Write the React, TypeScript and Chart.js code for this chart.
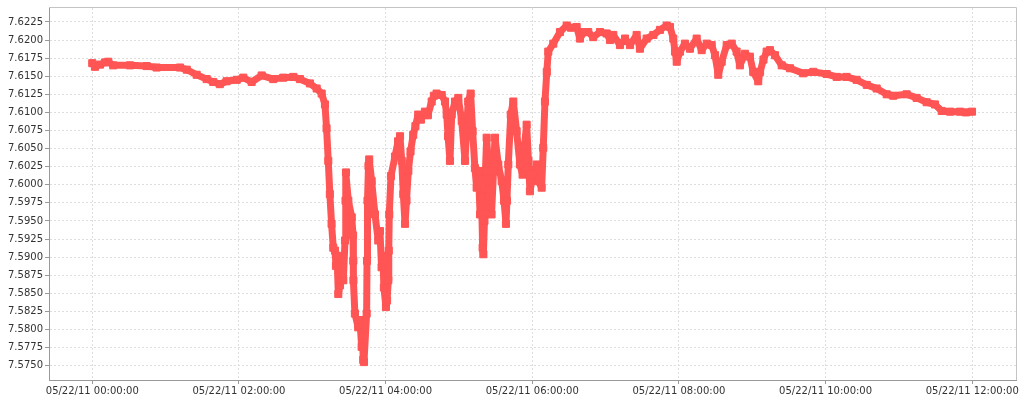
import React, { useEffect, useRef } from "react";
import { Chart, registerables } from "chart.js";

Chart.register(...registerables);

// minutes after 05/22/11 00:00:00
const MINUTES = [
  0, 2.2, 6.3, 10.4, 13.1, 17.1, 30.9, 44.5, 52.7, 71.8, 77.3, 85.4, 93.6, 99.0, 104.4, 109.9,
  118.2, 123.6, 130.4, 138.6, 148.1, 156.3, 164.5, 170.0, 178.1, 183.6, 187.7, 190.4, 191.7, 193.1,
  194.4, 195.8, 197.2, 198.6, 199.4, 200.3, 201.3, 202.7, 204.1, 205.4, 206.8, 207.2, 207.6, 209.5,
  212.3, 213.4, 213.6, 213.7, 214.9, 217.6, 219.0, 220.4, 221.1, 221.7, 222.3, 224.5, 224.8, 225.2,
  226.0, 226.6, 228.6, 231.3, 234.0, 235.4, 236.7, 237.8, 238.6, 240.3, 241.2, 242.2, 242.6, 243.0,
  244.4, 247.7, 250.2, 251.8, 253.2, 254.5, 255.9, 257.1, 258.6, 260.4, 262.6, 264.4, 266.7, 268.9,
  272.2, 274.6, 277.7, 279.5, 281.7, 285.9, 288.6, 290.0, 291.1, 292.7, 294.1, 296.8, 299.5, 302.3,
  305.0, 306.2, 307.6, 309.6, 311.2, 313.1, 314.5, 316.0, 317.3, 318.5, 319.4, 320.0, 320.9, 321.7,
  322.7, 324.8, 326.7, 328.3, 329.5, 332.2, 335.0, 336.9, 338.5, 339.3, 340.4, 342.4, 344.5, 347.2,
  349.9, 352.1, 353.6, 355.4, 356.9, 358.1, 360.8, 363.6, 364.9, 367.7, 369.0, 370.4, 371.9, 373.1,
  377.2, 382.7, 388.2, 391.7, 396.3, 399.0, 402.3, 405.8, 409.9, 415.4, 420.9, 423.6, 426.3, 431.8,
  435.9, 440.0, 445.4, 448.1, 453.6, 459.1, 464.5, 470.0, 472.7, 475.4, 476.8, 478.2, 480.9, 484.9,
  489.0, 494.5, 498.6, 502.8, 506.8, 509.5, 512.2, 515.0, 519.1, 523.2, 527.2, 529.9, 534.0, 538.1,
  540.8, 544.9, 546.4, 549.2, 551.8, 554.5, 558.6, 564.1, 570.9, 581.7, 590.0, 600.9, 609.1, 617.2,
  625.4, 633.7, 641.8, 650.0, 655.4, 666.3, 674.5, 682.7, 689.5, 695.0, 701.8, 710.0, 714.8, 719.8,
];

const VALUES = [
  7.6168, 7.6163, 7.6166, 7.6169, 7.6170, 7.6165, 7.6165, 7.6164, 7.6162, 7.6162, 7.6159, 7.6152, 7.6146, 7.6142, 7.6139, 7.6143,
  7.6145, 7.6148, 7.6142, 7.6151, 7.6146, 7.6148, 7.6149, 7.6146, 7.6140, 7.6133, 7.6126, 7.6111, 7.6078, 7.6033,
  7.5987, 7.5946, 7.5913, 7.5909, 7.5888, 7.5902, 7.5849, 7.5861, 7.5895, 7.5868, 7.5923, 7.5978, 7.6017, 7.5978,
  7.5955, 7.5930, 7.5895, 7.5868, 7.5822, 7.5803, 7.5813, 7.5776, 7.5792, 7.5758, 7.5755, 7.5822, 7.5895, 7.5978,
  7.6026, 7.6035, 7.6005, 7.5959, 7.5923, 7.5936, 7.5886, 7.5902, 7.5858, 7.5831, 7.5840, 7.5868, 7.5909, 7.5959,
  7.6012, 7.6039, 7.6060, 7.6067, 7.6033, 7.5987, 7.5946, 7.5978, 7.6019, 7.6046, 7.6069, 7.6081, 7.6097, 7.6090,
  7.6101, 7.6096, 7.6115, 7.6123, 7.6126, 7.6124, 7.6115, 7.6097, 7.6067, 7.6033, 7.6097, 7.6115, 7.6120, 7.6088,
  7.6033, 7.6074, 7.6115, 7.6126, 7.6074, 7.6023, 7.5996, 7.6019, 7.5959, 7.5984, 7.5913, 7.5904, 7.5950, 7.6019,
  7.6065, 7.6005, 7.5959, 7.6019, 7.6065, 7.6028, 7.6005, 7.5978, 7.5946, 7.5978, 7.6028, 7.6097, 7.6115, 7.6074,
  7.6028, 7.6014, 7.6053, 7.6083, 7.6033, 7.5991, 7.6014, 7.6028, 7.6005, 7.5996, 7.6051, 7.6115, 7.6156, 7.6184,
  7.6195, 7.6211, 7.6220, 7.6217, 7.6218, 7.6202, 7.6211, 7.6211, 7.6204, 7.6211, 7.6209, 7.6200, 7.6207, 7.6193,
  7.6202, 7.6193, 7.6207, 7.6188, 7.6202, 7.6207, 7.6214, 7.6220, 7.6218, 7.6202, 7.6184, 7.6170, 7.6184, 7.6195,
  7.6188, 7.6202, 7.6186, 7.6195, 7.6193, 7.6179, 7.6152, 7.6170, 7.6193, 7.6195, 7.6184, 7.6165, 7.6181, 7.6177,
  7.6156, 7.6143, 7.6156, 7.6173, 7.6184, 7.6186, 7.6179, 7.6165, 7.6161, 7.6154, 7.6156, 7.6153, 7.6149, 7.6149,
  7.6145, 7.6138, 7.6133, 7.6125, 7.6123, 7.6125, 7.6120, 7.6114, 7.6111, 7.6102, 7.6101, 7.6101, 7.6100, 7.6101,
];

const X_TICKS = [0, 120, 240, 360, 480, 600, 720];
const DATE_PREFIX = "05/22/11";
const Y_TICKS = [
  7.575, 7.5775, 7.58, 7.5825, 7.585, 7.5875, 7.59, 7.5925, 7.595, 7.5975,
  7.6, 7.6025, 7.605, 7.6075, 7.61, 7.6125, 7.615, 7.6175, 7.62, 7.6225,
];

const frame = {
  id: "frame",
  afterDraw(chart: any) {
    const { ctx, chartArea } = chart;
    ctx.save();
    ctx.strokeStyle = "#c4c4c4";
    ctx.lineWidth = 1;
    ctx.beginPath();
    ctx.moveTo(Math.round(chartArea.left), Math.round(chartArea.top) - 0.5);
    ctx.lineTo(Math.round(chartArea.right) + 0.5, Math.round(chartArea.top) - 0.5);
    ctx.lineTo(Math.round(chartArea.right) + 0.5, Math.round(chartArea.bottom));
    ctx.stroke();
    ctx.restore();
  },
};

export default function App() {
  const ref = useRef<HTMLCanvasElement | null>(null);
  useEffect(() => {
    if (!ref.current) return;
    const font = { family: "'DejaVu Sans', sans-serif", size: 10 };
    const chart = new Chart(ref.current, {
      type: "line",
      data: {
        datasets: [
          {
            data: MINUTES.map((m, i) => ({ x: m, y: VALUES[i] })),
            borderColor: "#ff5555",
            backgroundColor: "#ff5555",
            pointBorderColor: "#ff5555",
            pointBackgroundColor: "#ff5555",
            borderWidth: 7,
            borderJoinStyle: "round",
            borderCapStyle: "round",
            pointStyle: "rect",
            pointRadius: 5,
            pointBorderWidth: 1,
            tension: 0,
          },
        ],
      },
      options: {
        responsive: false,
        animation: false,
        events: [],
        layout: { autoPadding: false, padding: { top: 6, right: 8, left: 0, bottom: 0 } },
        plugins: { legend: { display: false }, tooltip: { enabled: false } },
        scales: {
          x: {
            type: "linear",
            min: -35.4,
            max: 755.8,
            afterBuildTicks: (s: any) => {
              s.ticks = X_TICKS.map((v) => ({ value: v }));
            },
            afterFit: (s: any) => {
              s.height = 20;
            },
            ticks: {
              font,
              color: "#333",
              padding: 1,
              maxRotation: 0,
              autoSkip: false,
              callback: (v: any) => {
                const h = Math.round(Number(v) / 60);
                return `${DATE_PREFIX} ${String(h).padStart(2, "0")}:00:00`;
              },
            },
            grid: { color: "#dddddd", tickColor: "#999", tickLength: 4, tickBorderDash: [] },
            border: { color: "#999", width: 1, dash: [2, 2] },
          },
          y: {
            type: "linear",
            min: 7.573022,
            max: 7.624424,
            afterBuildTicks: (s: any) => {
              s.ticks = Y_TICKS.map((v) => ({ value: v }));
            },
            afterFit: (s: any) => {
              s.width = 49;
            },
            ticks: {
              font,
              color: "#333",
              padding: 2,
              autoSkip: false,
              callback: (v: any) => Number(v).toFixed(4),
            },
            grid: { color: "#dddddd", tickColor: "#999", tickLength: 4, tickBorderDash: [] },
            border: { color: "#999", width: 1, dash: [2, 2] },
          },
        },
      },
      plugins: [frame],
    } as any);
    return () => chart.destroy();
  }, []);
  return (
    <canvas
      ref={ref}
      width={1024}
      height={400}
      style={{ position: "fixed", left: 0, top: 0, width: 1024, height: 400 }}
    />
  );
}
